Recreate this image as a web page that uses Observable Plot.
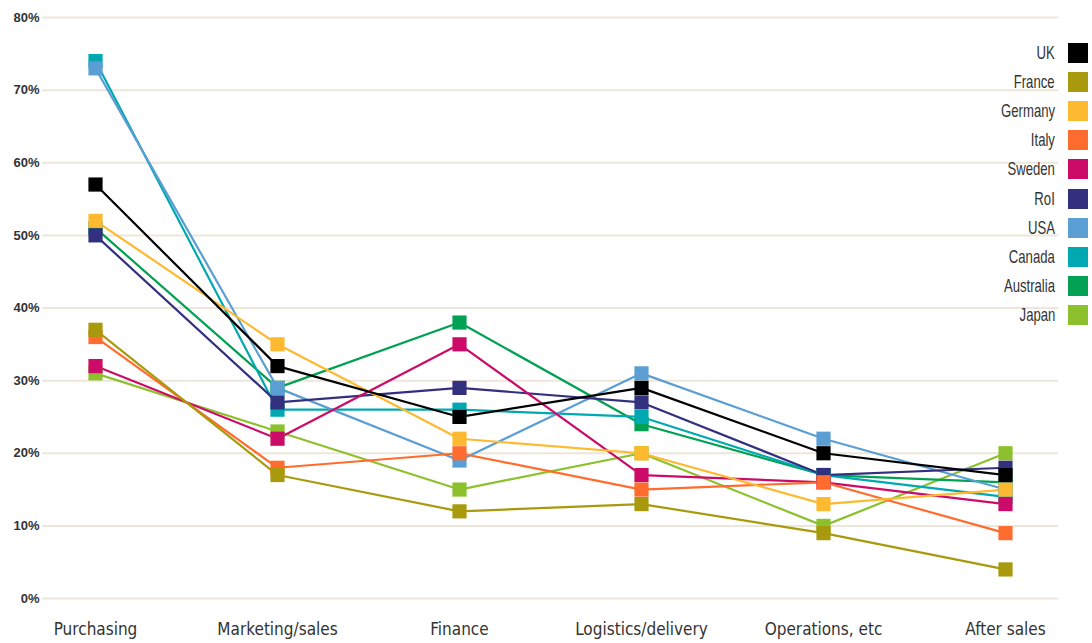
<!DOCTYPE html>
<html>
<head>
<meta charset="utf-8">
<script src="https://cdn.jsdelivr.net/npm/d3@7"></script>
<script src="https://cdn.jsdelivr.net/npm/@observablehq/plot@0.6"></script>
<style>
  html, body { margin: 0; padding: 0; background: #fff; }
  #wrap { position: relative; width: 1092px; height: 643px; }
  #legend { position: absolute; left: 900px; top: 38px; width: 190px;
    font-family: "Liberation Sans", Arial, sans-serif;
    font-size: 18.5px; color: #333; }
  .row { display: flex; justify-content: flex-end; align-items: center; height: 29.2px; }
  .row span.t { display: inline-block; transform: scaleX(0.71); transform-origin: right center; }
  .row span.sw { display: inline-block; width: 20px; height: 20px; margin-left: 13px; margin-right: 2px; }
</style>
</head>
<body>
<div id="wrap"><div id="legend"></div></div>
<script>
const categories = ["Purchasing", "Marketing/sales", "Finance", "Logistics/delivery", "Operations, etc", "After sales"];
const countries = ["UK", "France", "Germany", "Italy", "Sweden", "RoI", "USA", "Canada", "Australia", "Japan"];
const colors = ["#000000", "#a89a0c", "#fdb92f", "#ff6c2e", "#cc0b68", "#33307f", "#5a9ed3", "#00a9b1", "#00a152", "#8cc12d"];

const uk        = [57, 32, 25, 29, 20, 17];
const france    = [37, 17, 12, 13, 9, 4];
const germany   = [52, 35, 22, 20, 13, 15];
const italy     = [36, 18, 20, 15, 16, 9];
const sweden    = [32, 22, 35, 17, 16, 13];
const roi       = [50, 27, 29, 27, 17, 18];
const usa       = [73, 29, 19, 31, 22, 15];
const canada    = [74, 26, 26, 25, 17, 14];
const australia = [51, 29, 38, 24, 17, 16];
const japan     = [31, 23, 15, 20, 10, 20];

const yTicks = [0, 10, 20, 30, 40, 50, 60, 70, 80];

const series = [uk, france, germany, italy, sweden, roi, usa, canada, australia, japan];
const rows = [];
// draw in reverse order so earlier series sit on top
for (let i = countries.length - 1; i >= 0; i--) {
  categories.forEach((c, j) => rows.push({country: countries[i], category: c, value: series[i][j]}));
}

const narrow = '"Liberation Sans Narrow", "Arial Narrow", "DejaVu Sans Condensed", sans-serif';

const chart = Plot.plot({
  width: 1092,
  height: 643,
  marginLeft: 42,
  marginRight: 34,
  marginTop: 17,
  marginBottom: 45,
  style: {background: "transparent", overflow: "visible"},
  x: {type: "point", domain: categories, padding: 0.291, label: null},
  y: {domain: [0, 80], ticks: yTicks, label: null},
  color: {domain: countries, range: colors},
  marks: [
    Plot.gridY(yTicks, {stroke: "#ece7da", strokeOpacity: 1, strokeWidth: 2}),
    Plot.axisY(yTicks, {tickSize: 0, tickPadding: 3, tickFormat: d => d + "%", fontSize: 13, fontWeight: "bold", fill: "#333", fontFamily: "Liberation Sans, Arial, sans-serif"}),
    Plot.axisX({tickSize: 0, tickPadding: 24, fontSize: 17, fill: "#333", fontFamily: narrow}),
    Plot.line(rows, {x: "category", y: "value", z: "country", stroke: "country", strokeWidth: 2.2}),
    Plot.dot(rows, {x: "category", y: "value", fill: "country", symbol: "square", r: 8})
  ]
});
document.getElementById("wrap").prepend(chart);

const legend = document.getElementById("legend");
countries.forEach((c, i) => {
  const row = document.createElement("div");
  row.className = "row";
  row.innerHTML = `<span class="t">${c}</span><span class="sw" style="background:${colors[i]}"></span>`;
  legend.appendChild(row);
});
</script>
</body>
</html>
